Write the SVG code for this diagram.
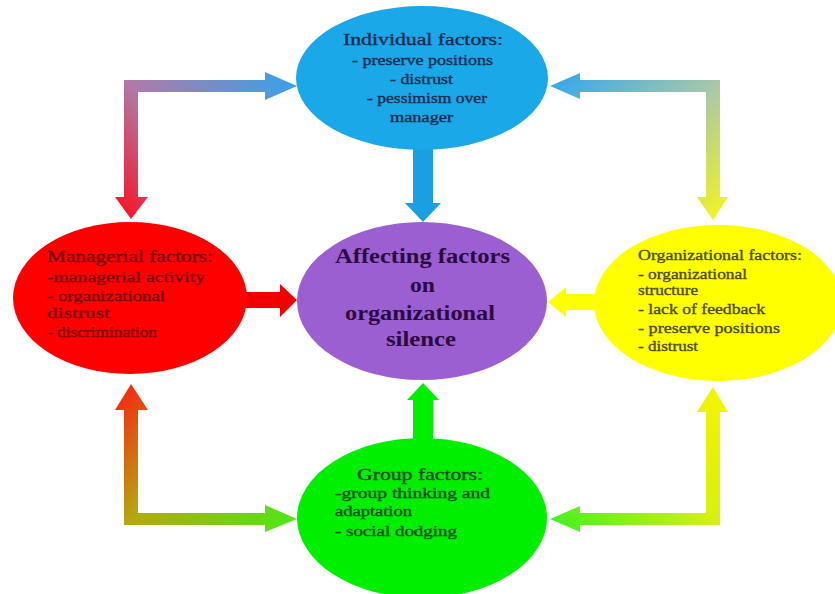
<svg xmlns="http://www.w3.org/2000/svg" width="835" height="594" viewBox="0 0 835 594">
<defs>
<linearGradient id="gTL" gradientUnits="userSpaceOnUse" x1="297" y1="86" x2="131" y2="219">
<stop offset="0" stop-color="#38a2ea"/><stop offset="0.61" stop-color="#b07aa6"/><stop offset="1" stop-color="#f2182c"/>
</linearGradient>
<linearGradient id="gTR" gradientUnits="userSpaceOnUse" x1="550" y1="86" x2="713" y2="220">
<stop offset="0" stop-color="#36a8ea"/><stop offset="0.6" stop-color="#a8c8a8"/><stop offset="1" stop-color="#f2f224"/>
</linearGradient>
<linearGradient id="gBL" gradientUnits="userSpaceOnUse" x1="131" y1="384" x2="297" y2="519">
<stop offset="0" stop-color="#f42c10"/><stop offset="0.4" stop-color="#b4a810"/><stop offset="1" stop-color="#4ee818"/>
</linearGradient>
<linearGradient id="gBR" gradientUnits="userSpaceOnUse" x1="713" y1="387" x2="550" y2="519">
<stop offset="0" stop-color="#f4f400"/><stop offset="0.4" stop-color="#d6f010"/><stop offset="1" stop-color="#46f020"/>
</linearGradient>
</defs>
<style>
text{font-family:"Liberation Serif","Times New Roman",serif;}
.t{font-size:15px;stroke-width:0.35px;}
.h{font-size:16px;stroke-width:0.35px;}
.b{font-size:20px;font-weight:bold;fill:#2a0a40;text-anchor:middle;}
</style>
<rect width="835" height="594" fill="#ffffff"/>
<g id="connectors">
<path d="M131,219 L148,197 L138,197 L138,92 L265,92 L265,100 L297,86 L265,72 L265,80 L124,80 L124,197 L115,197 Z" fill="url(#gTL)"/>
<path d="M550,86 L580,73 L580,80 L720,80 L720,197 L728,197 L713,220 L697,197 L706,197 L706,92 L580,92 L580,99 Z" fill="url(#gTR)"/>
<path d="M131,384 L148,410 L138,410 L138,513 L265,513 L265,505 L297,519 L265,532 L265,525 L124,525 L124,410 L115,410 Z" fill="url(#gBL)"/>
<path d="M713,387 L728,412 L720,412 L720,525 L580,525 L580,532 L550,519 L580,506 L580,513 L706,513 L706,412 L697,412 Z" fill="url(#gBR)"/>
<path d="M413,140 L433,140 L433,203 L441,203 L423,222 L405,203 L413,203 Z" fill="#1aa0e2"/>
<path d="M235,292 L280,292 L280,284 L297,300 L280,317 L280,308 L235,308 Z" fill="#f00000"/>
<path d="M605,294 L566,294 L566,287 L548,302 L566,317 L566,310 L605,310 Z" fill="#ffff00"/>
<path d="M413,445 L413,400 L407,400 L423,383 L439,400 L433,400 L433,445 Z" fill="#00ee00"/>
</g>
<g id="individual">
<ellipse cx="422" cy="78" rx="126" ry="72" fill="#1aa8e8"/>
<g fill="#0c2a50" stroke="#0c2a50">
<text x="343" y="45" class="h" textLength="160" lengthAdjust="spacingAndGlyphs">Individual factors:</text>
<text x="352" y="65" class="t" textLength="141" lengthAdjust="spacingAndGlyphs">- preserve positions</text>
<text x="390" y="84" class="t" textLength="63" lengthAdjust="spacingAndGlyphs">- distrust</text>
<text x="367" y="103" class="t" textLength="120" lengthAdjust="spacingAndGlyphs">- pessimism  over</text>
<text x="390" y="122" class="t" textLength="63" lengthAdjust="spacingAndGlyphs">manager</text>
</g>
</g>
<g id="center">
<ellipse cx="422" cy="301" rx="125" ry="79" fill="#9b5fd2"/>
<text x="335" y="263" class="b" style="text-anchor:start" textLength="175" lengthAdjust="spacingAndGlyphs">Affecting factors</text>
<text x="410" y="292" class="b" style="text-anchor:start" textLength="25" lengthAdjust="spacingAndGlyphs">on</text>
<text x="345" y="320" class="b" style="text-anchor:start" textLength="150" lengthAdjust="spacingAndGlyphs">organizational</text>
<text x="386" y="346" class="b" style="text-anchor:start" textLength="70" lengthAdjust="spacingAndGlyphs">silence</text>
</g>
<g id="managerial">
<ellipse cx="130" cy="298" rx="117" ry="76" fill="#ff0000"/>
<g fill="#7a0000" stroke="#7a0000">
<text x="47" y="262" class="h" textLength="166" lengthAdjust="spacingAndGlyphs">Managerial factors:</text>
<text x="47" y="282" class="t" textLength="158" lengthAdjust="spacingAndGlyphs">-managerial  activity</text>
<text x="47" y="301" class="t" textLength="118" lengthAdjust="spacingAndGlyphs">- organizational</text>
<text x="47" y="318" class="t" textLength="63" lengthAdjust="spacingAndGlyphs">distrust</text>
<text x="47" y="337" class="t" textLength="110" lengthAdjust="spacingAndGlyphs">- discrimination</text>
</g>
</g>
<g id="organizational">
<ellipse cx="718" cy="303" rx="124" ry="78" fill="#ffff00"/>
<g fill="#4a4a00" stroke="#4a4a00">
<text x="638" y="260" class="t" textLength="164" lengthAdjust="spacingAndGlyphs">Organizational factors:</text>
<text x="638" y="279" class="t" textLength="109" lengthAdjust="spacingAndGlyphs">- organizational</text>
<text x="638" y="295" class="t" textLength="60" lengthAdjust="spacingAndGlyphs">structure</text>
<text x="638" y="314" class="t" textLength="127" lengthAdjust="spacingAndGlyphs">- lack of feedback</text>
<text x="638" y="333" class="t" textLength="142" lengthAdjust="spacingAndGlyphs">- preserve positions</text>
<text x="638" y="351" class="t" textLength="60" lengthAdjust="spacingAndGlyphs">- distrust</text>
</g>
</g>
<g id="group">
<ellipse cx="422" cy="518" rx="125" ry="80" fill="#00ee00"/>
<g fill="#0a4a0a" stroke="#0a4a0a">
<text x="357" y="480" class="h" textLength="126" lengthAdjust="spacingAndGlyphs">Group factors:</text>
<text x="335" y="498" class="t" textLength="155" lengthAdjust="spacingAndGlyphs">-group thinking and</text>
<text x="335" y="516" class="t" textLength="77" lengthAdjust="spacingAndGlyphs">adaptation</text>
<text x="335" y="536" class="t" textLength="122" lengthAdjust="spacingAndGlyphs">- social dodging</text>
</g>
</g>
</svg>
